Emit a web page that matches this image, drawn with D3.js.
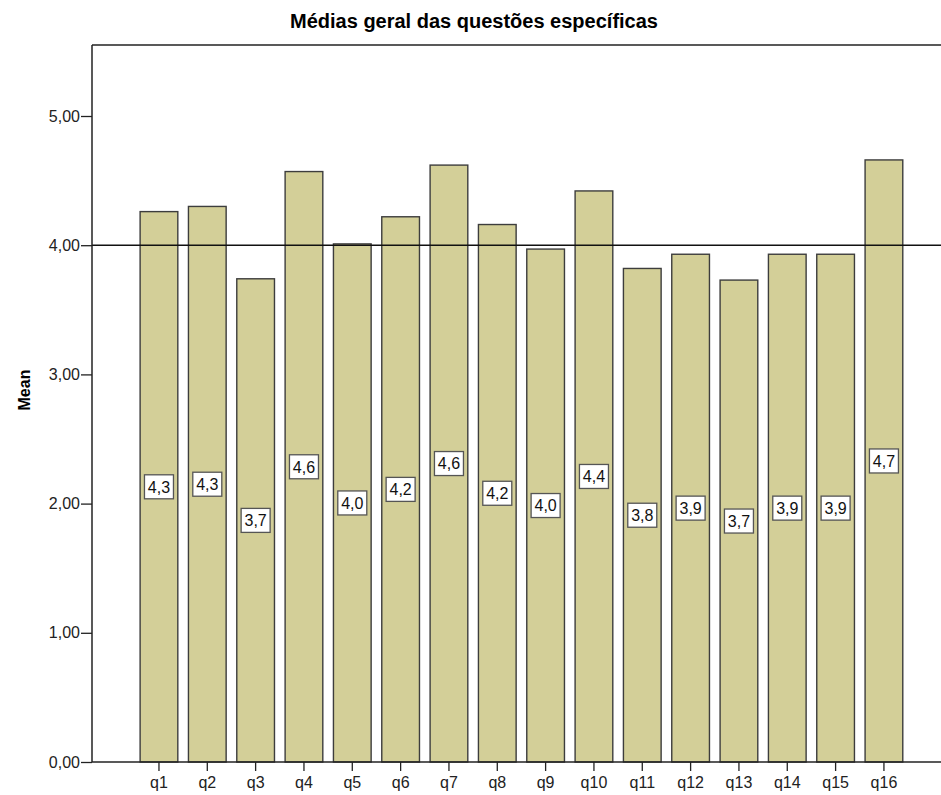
<!DOCTYPE html>
<html>
<head>
<meta charset="utf-8">
<script src="https://cdn.jsdelivr.net/npm/d3@7"></script>
<style>
  body { margin: 0; background: #fff; }
  svg { font-family: "Liberation Sans", Arial, sans-serif; }
</style>
</head>
<body>
<div id="chart"></div>
<script>
var w = 941,
  h = 795;

// questions on the x axis
var questions = ["q1", "q2", "q3", "q4", "q5", "q6", "q7", "q8", "q9", "q10", "q11", "q12", "q13", "q14", "q15", "q16"];
// mean per question
var means = [4.26, 4.30, 3.74, 4.57, 4.01, 4.22, 4.62, 4.16, 3.97, 4.42, 3.82, 3.93, 3.73, 3.93, 3.93, 4.66];
// y ticks
var yTicks = [0, 1, 2, 3, 4, 5];
var refValue = 4;

var titleText = "Médias geral das questões específicas";
var yTitle = "Mean";

var plotLeft = 92,
  plotTop = 45,
  plotBottom = 762;

var svg = d3.select("#chart").append("svg")
  .attr("width", w)
  .attr("height", h);

var y = d3.scaleLinear()
  .domain([0, 5])
  .range([plotBottom, 116]);

var x = d3.scaleBand()
  .domain(questions)
  .range([134.8, 908.1])
  .paddingInner(0.22)
  .paddingOuter(0.11);

var comma = function(v, digits) { return v.toFixed(digits).replace(".", ","); };

// title
svg.append("text")
  .attr("x", 474)
  .attr("y", 28)
  .attr("text-anchor", "middle")
  .attr("font-size", "20px")
  .attr("font-weight", "bold")
  .attr("fill", "#000")
  .text(titleText);

// top frame line
svg.append("line")
  .attr("x1", plotLeft).attr("x2", w)
  .attr("y1", plotTop).attr("y2", plotTop)
  .attr("stroke", "#222")
  .attr("stroke-width", 1.5);

// bars
svg.selectAll("rect.bar")
  .data(means)
  .enter()
  .append("rect")
  .attr("class", "bar")
  .attr("x", function(d, i) { return x(questions[i]); })
  .attr("y", function(d) { return y(d); })
  .attr("width", x.bandwidth())
  .attr("height", function(d) { return y(0) - y(d); })
  .attr("fill", "#d3cf98")
  .attr("stroke", "#3d3d3d")
  .attr("stroke-width", 1.4);

// reference line at 4
svg.append("line")
  .attr("x1", plotLeft).attr("x2", w)
  .attr("y1", y(refValue)).attr("y2", y(refValue))
  .attr("stroke", "#111")
  .attr("stroke-width", 1.5);

// value labels in the middle of each bar
var labels = svg.selectAll("g.lbl")
  .data(means)
  .enter()
  .append("g")
  .attr("class", "lbl")
  .attr("transform", function(d, i) {
    return "translate(" + (x(questions[i]) + x.bandwidth() / 2) + "," + y(d / 2) + ")";
  });

labels.append("rect")
  .attr("x", -14.5)
  .attr("y", -12)
  .attr("width", 29)
  .attr("height", 24)
  .attr("fill", "#fff")
  .attr("stroke", "#555")
  .attr("stroke-width", 1.3);

labels.append("text")
  .attr("text-anchor", "middle")
  .attr("dy", "0.36em")
  .attr("font-size", "16px")
  .attr("fill", "#111")
  .text(function(d) { return comma(d, 1); });

// y axis
var yAxis = svg.append("g")
  .attr("transform", "translate(" + plotLeft + ",0)")
  .call(d3.axisLeft(y).tickValues(yTicks).tickSize(11).tickPadding(1)
    .tickFormat(function(d) { return comma(d, 2); }));
yAxis.select(".domain").remove();
yAxis.selectAll("line").attr("stroke", "#222").attr("stroke-width", 1.3);
yAxis.selectAll("text").attr("font-size", "16px").attr("fill", "#222")
  .attr("font-family", "'Liberation Sans', Arial, sans-serif");

svg.append("line")
  .attr("x1", plotLeft).attr("x2", plotLeft)
  .attr("y1", plotTop).attr("y2", plotBottom)
  .attr("stroke", "#222")
  .attr("stroke-width", 1.5);

// x axis
var xAxis = svg.append("g")
  .attr("transform", "translate(0," + plotBottom + ")")
  .call(d3.axisBottom(x).tickSize(9).tickPadding(6));
xAxis.select(".domain").remove();
xAxis.selectAll("line").attr("stroke", "#222").attr("stroke-width", 1.3);
xAxis.selectAll("text").attr("font-size", "16px").attr("fill", "#222")
  .attr("font-family", "'Liberation Sans', Arial, sans-serif");

svg.append("line")
  .attr("x1", plotLeft).attr("x2", w)
  .attr("y1", plotBottom).attr("y2", plotBottom)
  .attr("stroke", "#222")
  .attr("stroke-width", 1.5);

// y axis title
svg.append("text")
  .attr("transform", "translate(30,390) rotate(-90)")
  .attr("text-anchor", "middle")
  .attr("font-size", "16px")
  .attr("font-weight", "bold")
  .attr("fill", "#000")
  .text(yTitle);
</script>
</body>
</html>
